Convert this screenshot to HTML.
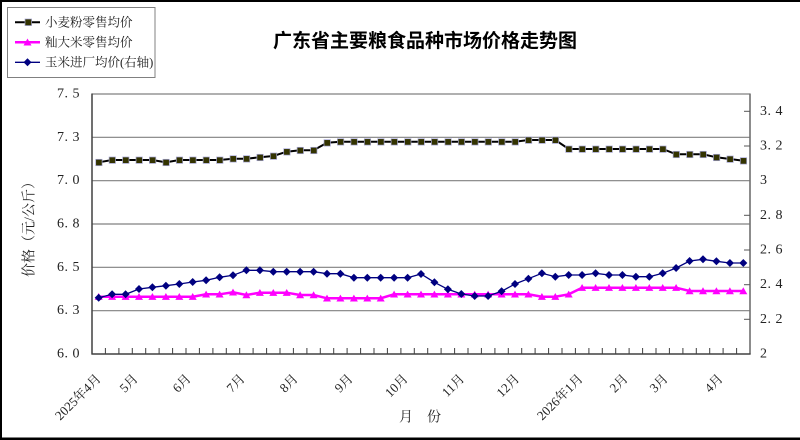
<!DOCTYPE html>
<html>
<head>
<meta charset="utf-8">
<style>
html,body{margin:0;padding:0;background:#fff;}
body{width:800px;height:440px;overflow:hidden;}
svg{display:block;}
.lab{font-family:"Liberation Serif","Noto Serif CJK SC",serif;font-size:14px;fill:#222;}
.xl{font-family:"Liberation Serif","Noto Serif CJK SC",serif;font-size:13px;fill:#222;}
.lg{font-family:"Liberation Serif","Noto Serif CJK SC",serif;font-size:12.5px;fill:#222;}
.tt{font-family:"Liberation Sans","Noto Sans CJK SC",sans-serif;font-size:19px;font-weight:bold;fill:#000;}
</style>
</head>
<body>
<svg width="800" height="440" viewBox="0 0 800 440" xmlns="http://www.w3.org/2000/svg">
<defs>
<marker id="sq" markerUnits="userSpaceOnUse" markerWidth="10" markerHeight="10" refX="5" refY="5" overflow="visible">
<rect x="2" y="2" width="6.4" height="6.4" fill="#333300" stroke="#a8a8d8" stroke-width="0.7"/>
</marker>
<marker id="tri" markerUnits="userSpaceOnUse" markerWidth="10" markerHeight="10" refX="5" refY="5" overflow="visible">
<polygon points="5,1.3 9,8.2 1,8.2" fill="#ff00ff"/>
</marker>
<marker id="dia" markerUnits="userSpaceOnUse" markerWidth="10" markerHeight="10" refX="5" refY="5" overflow="visible">
<polygon points="5,1 9,5 5,9 1,5" fill="#000080"/>
</marker>
</defs>

<rect x="0" y="0" width="800" height="440" fill="#fff"/>
<!-- image frame -->
<rect x="0" y="0" width="800" height="2" fill="#000"/>
<rect x="0" y="0" width="2" height="440" fill="#000"/>
<rect x="0" y="437.5" width="800" height="2.5" fill="#000"/>

<!-- title -->
<text class="tt" x="425" y="47" text-anchor="middle">广东省主要粮食品种市场价格走势图</text>

<!-- legend -->
<rect x="7.5" y="7.5" width="147.5" height="70" fill="#fff" stroke="#808080" stroke-width="1"/>
<line x1="15" y1="22.3" x2="40" y2="22.3" stroke="#000" stroke-width="2"/>
<rect x="25" y="19" width="6.6" height="6.6" fill="#333300" stroke="#a8a8d8" stroke-width="0.7"/>
<text class="lg" x="45" y="22.3" dominant-baseline="central">小麦粉零售均价</text>
<line x1="15" y1="42.3" x2="40" y2="42.3" stroke="#ff00ff" stroke-width="2.5"/>
<polygon points="27.5,38.5 31.5,45.5 23.5,45.5" fill="#ff00ff"/>
<text class="lg" x="45" y="42.3" dominant-baseline="central">籼大米零售均价</text>
<line x1="15" y1="62.3" x2="40" y2="62.3" stroke="#000080" stroke-width="1.3"/>
<polygon points="27.5,58.3 31.5,62.3 27.5,66.3 23.5,62.3" fill="#000080"/>
<text class="lg" x="45" y="62.3" dominant-baseline="central">玉米进厂均价(右轴)</text>

<!-- gridlines -->
<g stroke="#808080" stroke-width="1.2">
<line x1="92" y1="94" x2="750" y2="94"/>
<line x1="92" y1="137.3" x2="750" y2="137.3"/>
<line x1="92" y1="180.7" x2="750" y2="180.7"/>
<line x1="92" y1="224" x2="750" y2="224"/>
<line x1="92" y1="267.3" x2="750" y2="267.3"/>
<line x1="92" y1="310.7" x2="750" y2="310.7"/>
</g>
<!-- axes -->
<line x1="92" y1="93.5" x2="92" y2="354.5" stroke="#404040" stroke-width="1.5"/>
<line x1="750" y1="93.5" x2="750" y2="354.5" stroke="#707070" stroke-width="1.6"/>
<line x1="91.5" y1="354" x2="750.5" y2="354" stroke="#404040" stroke-width="1.5"/>

<!-- right ticks -->
<g stroke="#555" stroke-width="1">
<line x1="744" y1="111.3" x2="750" y2="111.3"/>
<line x1="744" y1="146" x2="750" y2="146"/>
<line x1="744" y1="215.3" x2="750" y2="215.3"/>
<line x1="744" y1="250" x2="750" y2="250"/>
<line x1="744" y1="284.7" x2="750" y2="284.7"/>
<line x1="744" y1="319.3" x2="750" y2="319.3"/>
</g>

<!-- bottom ticks -->
<path stroke="#404040" stroke-width="1" fill="none" d="M105.4 348V354M118.9 348V354M132.3 348V354M145.7 348V354M159.1 348V354M172.6 348V354M186.0 348V354M199.4 348V354M212.9 348V354M226.3 348V354M239.7 348V354M253.1 348V354M266.6 348V354M280.0 348V354M293.4 348V354M306.9 348V354M320.3 348V354M333.7 348V354M347.1 348V354M360.6 348V354M374.0 348V354M387.4 348V354M400.9 348V354M414.3 348V354M427.7 348V354M441.1 348V354M454.6 348V354M468.0 348V354M481.4 348V354M494.9 348V354M508.3 348V354M521.7 348V354M535.1 348V354M548.6 348V354M562.0 348V354M575.4 348V354M588.9 348V354M602.3 348V354M615.7 348V354M629.1 348V354M642.6 348V354M656.0 348V354M669.4 348V354M682.9 348V354M696.3 348V354M709.7 348V354M723.1 348V354M736.6 348V354"/>

<!-- left labels -->
<g class="lab" text-anchor="end" dominant-baseline="central" letter-spacing="0.5">
<text x="80" y="94">7. 5</text>
<text x="80" y="137.3">7. 3</text>
<text x="80" y="180.7">7. 0</text>
<text x="80" y="224">6. 8</text>
<text x="80" y="267.3">6. 5</text>
<text x="80" y="310.7">6. 3</text>
<text x="80" y="354">6. 0</text>
</g>
<!-- right labels -->
<g class="lab" text-anchor="start" dominant-baseline="central" letter-spacing="0.5">
<text x="760" y="111.3">3. 4</text>
<text x="760" y="146">3. 2</text>
<text x="760" y="180.7">3</text>
<text x="760" y="215.3">2. 8</text>
<text x="760" y="250">2. 6</text>
<text x="760" y="284.7">2. 4</text>
<text x="760" y="319.3">2. 2</text>
<text x="760" y="354">2</text>
</g>

<!-- y axis title -->
<text class="lab" transform="translate(30,226) rotate(-90)" text-anchor="middle" dominant-baseline="central">价格（元/公斤）</text>
<!-- x axis title -->
<text class="lab" x="420" y="418" text-anchor="middle" dominant-baseline="central">月　份</text>

<!-- x labels -->
<g class="xl" text-anchor="end" dominant-baseline="central">
<text transform="translate(98.5,376.3) rotate(-45)">2025年4月</text>
<text transform="translate(135.5,376.3) rotate(-45)">5月</text>
<text transform="translate(188.5,376.3) rotate(-45)">6月</text>
<text transform="translate(242.5,376.3) rotate(-45)">7月</text>
<text transform="translate(295.5,376.3) rotate(-45)">8月</text>
<text transform="translate(350.5,376.3) rotate(-45)">9月</text>
<text transform="translate(405.5,376.3) rotate(-45)">10月</text>
<text transform="translate(462,376.3) rotate(-45)">11月</text>
<text transform="translate(517,376.3) rotate(-45)">12月</text>
<text transform="translate(580.5,376.3) rotate(-45)">2026年1月</text>
<text transform="translate(625.5,376.3) rotate(-45)">2月</text>
<text transform="translate(665.5,376.3) rotate(-45)">3月</text>
<text transform="translate(720.5,376.3) rotate(-45)">4月</text>
</g>

<!-- wheat flour -->
<polyline fill="none" stroke="#000" stroke-width="2" marker-start="url(#sq)" marker-mid="url(#sq)" marker-end="url(#sq)"
points="98.7,162.3 112.1,160 125.6,160 139.0,160 152.4,160 165.9,162.3 179.3,160 192.7,160 206.1,160 219.6,160 233.0,158.7 246.4,158.7 259.9,157.3 273.3,156 286.7,151.7 300.1,150.3 313.6,150.3 327.0,142.7 340.4,141.7 353.9,141.7 367.3,141.7 380.7,141.7 394.1,141.7 407.6,141.7 421.0,141.7 434.4,141.7 447.9,141.7 461.3,141.7 474.7,141.7 488.1,141.7 501.6,141.7 515.0,141.7 528.4,140 541.9,140 555.3,140 568.7,149 582.1,149 595.6,149 609.0,149 622.4,149 635.9,149 649.3,149 662.7,149 676.1,154.3 689.6,154.3 703.0,154.3 716.4,157.3 729.9,159 743.3,160.7"/>

<!-- rice -->
<polyline fill="none" stroke="#ff00ff" stroke-width="2.5" marker-start="url(#tri)" marker-mid="url(#tri)" marker-end="url(#tri)"
points="98.7,296.7 112.1,296.7 125.6,296.7 139.0,296.7 152.4,296.7 165.9,296.7 179.3,296.7 192.7,296.7 206.1,294.3 219.6,294.3 233.0,292.3 246.4,295 259.9,292.7 273.3,292.7 286.7,292.7 300.1,295 313.6,295 327.0,298.3 340.4,298.3 353.9,298.3 367.3,298.3 380.7,298.3 394.1,294.3 407.6,294.3 421.0,294.3 434.4,294.3 447.9,294.3 461.3,294.3 474.7,294.3 488.1,294.3 501.6,294.3 515.0,294.3 528.4,294.3 541.9,296.7 555.3,296.7 568.7,294.3 582.1,287.7 595.6,287.7 609.0,287.7 622.4,287.7 635.9,287.7 649.3,287.7 662.7,287.7 676.1,287.7 689.6,291 703.0,291 716.4,291 729.9,291 743.3,291"/>

<!-- corn -->
<polyline fill="none" stroke="#000080" stroke-width="1.3" marker-start="url(#dia)" marker-mid="url(#dia)" marker-end="url(#dia)"
points="98.7,297.7 112.1,294.3 125.6,294.3 139.0,289 152.4,287.3 165.9,285.7 179.3,284 192.7,282 206.1,280.3 219.6,277.3 233.0,275.3 246.4,270.3 259.9,270.3 273.3,271.7 286.7,271.7 300.1,271.7 313.6,271.7 327.0,273.7 340.4,273.7 353.9,277.7 367.3,277.7 380.7,277.7 394.1,277.7 407.6,277.7 421.0,274 434.4,282.3 447.9,289.3 461.3,294 474.7,296 488.1,296 501.6,291.3 515.0,284 528.4,278.7 541.9,273.3 555.3,276.7 568.7,275 582.1,275 595.6,273.3 609.0,275 622.4,275 635.9,276.7 649.3,276.7 662.7,273.3 676.1,268 689.6,261 703.0,259.3 716.4,261.3 729.9,263 743.3,263"/>
</svg>
</body>
</html>
